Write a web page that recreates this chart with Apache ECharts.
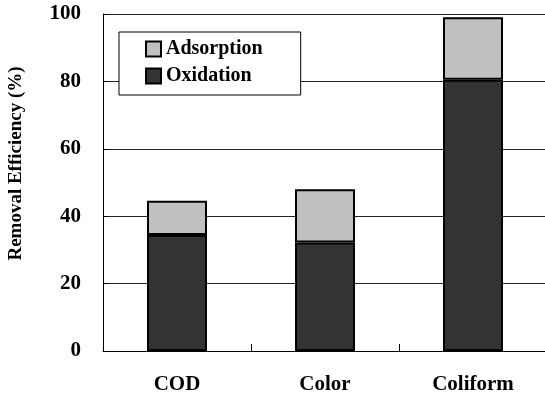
<!DOCTYPE html>
<html>
<head>
<meta charset="utf-8">
<script src="https://cdn.jsdelivr.net/npm/echarts@6/dist/echarts.min.js"></script>
<style>html,body{margin:0;padding:0;background:#fff;}#c{width:545px;height:400px;}</style>
</head>
<body>
<div id="c"></div>
<script>
var categories = ['COD', 'Color', 'Coliform'];
var oxidation = [34.4, 32.2, 80.5];
var adsorption = [10.2, 15.8, 18.5];
var yTicks = [0, 20, 40, 60, 80, 100];

var FONT = '"Liberation Serif", "Times New Roman", serif';
var chart = echarts.init(document.getElementById('c'), null, {renderer: 'canvas'});
chart.setOption({
  animation: false,
  backgroundColor: '#fff',
  grid: {left: 103, top: 14, width: 444, height: 337, containLabel: false, outerBoundsMode: 'none'},
  legend: {
    orient: 'vertical',
    left: 119, top: 32,
    data: [{name: 'Adsorption', icon: 'rect'}, {name: 'Oxidation', icon: 'rect'}],
    backgroundColor: '#fff',
    borderColor: '#000', borderWidth: 1,
    padding: [7, 38, 9, 26],
    itemWidth: 15, itemHeight: 15, itemGap: 7, itemTextGap: 7,
    textStyle: {fontFamily: FONT, fontWeight: 'bold', fontSize: 20, color: '#000'}
  },
  xAxis: {
    type: 'category',
    data: categories,
    axisLine: {lineStyle: {color: '#000', width: 1}},
    axisTick: {show: true, inside: true, length: 7, interval: 0, alignWithLabel: false, lineStyle: {color: '#000'}},
    axisLabel: {fontFamily: FONT, fontWeight: 'bold', fontSize: 21, color: '#000', margin: 23}
  },
  yAxis: {
    type: 'value',
    min: yTicks[0], max: yTicks[yTicks.length - 1], interval: 20,
    name: 'Removal Efficiency (%)',
    nameLocation: 'middle', nameRotate: 90, nameGap: 77,
    nameTextStyle: {fontFamily: FONT, fontWeight: 'bold', fontSize: 19, color: '#000', padding: [0, 0, 0, 38]},
    axisLine: {show: true, lineStyle: {color: '#000', width: 1}},
    axisTick: {show: true, inside: true, length: 5, lineStyle: {color: '#000'}},
    axisLabel: {fontFamily: FONT, fontWeight: 'bold', fontSize: 21, color: '#000', margin: 22},
    splitLine: {show: true, lineStyle: {color: '#222', width: 1}}
  },
  series: [
    {
      name: 'Oxidation', type: 'bar', stack: 'total', barWidth: 60,
      data: oxidation,
      itemStyle: {color: '#333333', borderColor: '#000', borderWidth: 2}
    },
    {
      name: 'Adsorption', type: 'bar', stack: 'total', barWidth: 60,
      data: adsorption,
      itemStyle: {color: '#c0c0c0', borderColor: '#000', borderWidth: 2}
    }
  ]
});
</script>
</body>
</html>
